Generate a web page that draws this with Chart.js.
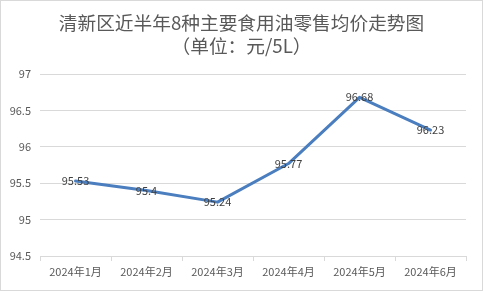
<!DOCTYPE html>
<html>
<head>
<meta charset="utf-8">
<script src="https://cdn.jsdelivr.net/npm/chart.js@4.4.1/dist/chart.umd.min.js"></script>
<style>
  body { margin: 0; background: #fff; }
  #wrap { width: 483px; height: 291px; border: 1px solid #d9d9d9; box-sizing: border-box; }
</style>
</head>
<body>
<div id="wrap"><canvas id="priceChart" width="481" height="289"></canvas></div>
<script>
const months = ['2024年1月', '2024年2月', '2024年3月', '2024年4月', '2024年5月', '2024年6月'];
const prices = [95.53, 95.4, 95.24, 95.77, 96.68, 96.23];
const titleLines = ['清新区近半年8种主要食用油零售均价走势图', '（单位：元/5L）'];

const FONT = '"Noto Sans CJK SC", "Noto Sans", sans-serif';

// value labels sit right on top of each point
const pointLabels = {
  id: 'pointLabels',
  afterDatasetsDraw(chart) {
    const ctx = chart.ctx;
    const meta = chart.getDatasetMeta(0);
    ctx.save();
    ctx.font = '11px ' + FONT;
    ctx.fillStyle = '#404040';
    ctx.textAlign = 'center';
    ctx.textBaseline = 'middle';
    meta.data.forEach((pt, i) => {
      ctx.fillText(String(prices[i]), pt.x, pt.y);
    });
    ctx.restore();
  }
};

new Chart(document.getElementById('priceChart'), {
  type: 'line',
  data: {
    labels: months,
    datasets: [{
      data: prices,
      borderColor: '#4a7ebf',
      borderWidth: 3,
      pointRadius: 0,
      tension: 0,
      borderJoinStyle: 'round',
      borderCapStyle: 'round'
    }]
  },
  options: {
    responsive: false,
    animation: false,
    layout: { padding: 0 },
    plugins: {
      legend: { display: false },
      tooltip: { enabled: false },
      title: {
        display: true,
        text: titleLines,
        color: '#595959',
        font: { family: FONT, size: 18.7, weight: 'normal', lineHeight: 1.23 },
        padding: { top: 10, bottom: 17 }
      }
    },
    scales: {
      x: {
        offset: true,
        grid: { offset: true, drawOnChartArea: false, drawTicks: true, tickLength: 5, color: '#d9d9d9' },
        border: { color: '#d9d9d9' },
        ticks: { color: '#595959', font: { family: FONT, size: 11 }, padding: 4, maxRotation: 0 },
        afterFit: s => { s.height = 34; }
      },
      y: {
        min: 94.5,
        max: 97,
        ticks: { stepSize: 0.5, color: '#595959', font: { family: FONT, size: 11 }, padding: 9,
                 callback: v => String(v) },
        grid: { color: '#d9d9d9', drawTicks: false },
        border: { display: false },
        afterFit: s => { s.width = 39; }
      },
      // empty right-hand axis, only keeps the right margin
      yRight: {
        position: 'right',
        grid: { display: false },
        border: { display: false },
        ticks: { display: false },
        afterFit: s => { s.width = 16; }
      }
    }
  },
  plugins: [pointLabels]
});
</script>
</body>
</html>
